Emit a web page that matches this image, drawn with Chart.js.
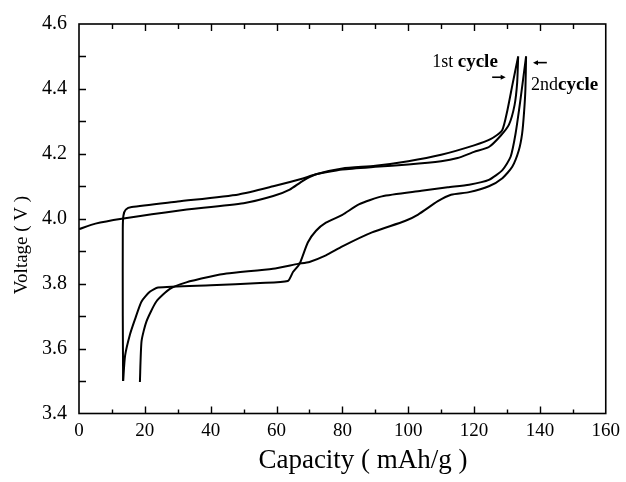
<!DOCTYPE html>
<html>
<head>
<meta charset="utf-8">
<script src="https://cdn.jsdelivr.net/npm/chart.js"></script>
<style>
html,body{margin:0;padding:0;background:#fff;}
#wrap{width:626px;height:482px;position:relative;}
canvas{display:block;}
</style>
</head>
<body>
<div id="wrap"><canvas id="c" width="626" height="482"></canvas></div>
<script>
// ---- data (capacity in mAh/g, voltage in V) ----
const cycle1ChargeCap = [0, 5, 13, 30, 50, 59, 64, 68, 72, 80, 90, 100, 110, 120, 125, 128.5, 130.1, 131.6, 133.4];
const cycle1ChargeV   = [3.968, 3.985, 4.0, 4.025, 4.048, 4.07, 4.09, 4.117, 4.137, 4.155, 4.163, 4.177, 4.197, 4.226, 4.245, 4.272, 4.333, 4.41, 4.5];

const cycle1DischargeCap = [133.4, 133.1, 132.3, 130.6, 128, 124.5, 120, 115, 110, 100, 90, 80, 75, 71, 68, 59, 48.5, 30, 16, 14.2, 13.5, 13.3, 13.3, 13.4];
const cycle1DischargeV   = [4.5, 4.42, 4.35, 4.29, 4.255, 4.221, 4.206, 4.187, 4.177, 4.167, 4.16, 4.152, 4.143, 4.134, 4.124, 4.1, 4.075, 4.053, 4.036, 4.028, 4.01, 3.97, 3.7, 3.5];

const cycle2ChargeCap = [13.4, 14, 15.5, 17, 19, 21.5, 24, 40, 55, 63.4, 65, 67, 69.5, 72, 75, 80, 85, 92, 104, 112, 118.5, 124.5, 128.6, 131.1, 132.6, 134, 135.8];
const cycle2ChargeV   = [3.5, 3.578, 3.644, 3.69, 3.745, 3.775, 3.788, 3.795, 3.802, 3.808, 3.836, 3.861, 3.927, 3.963, 3.988, 4.012, 4.044, 4.069, 4.086, 4.097, 4.105, 4.12, 4.15, 4.191, 4.262, 4.36, 4.5];

const cycle2DischargeCap = [135.8, 135.6, 135.2, 134.6, 133.6, 131.6, 128.6, 124.5, 118.5, 113, 109, 103, 99, 89, 80, 75, 70, 66.5, 58.9, 44.8, 39.7, 32.6, 27.6, 23.5, 20.5, 19, 18.5];
const cycle2DischargeV   = [4.5, 4.4, 4.33, 4.262, 4.211, 4.16, 4.125, 4.1, 4.082, 4.074, 4.054, 4.013, 3.993, 3.958, 3.915, 3.887, 3.867, 3.861, 3.846, 3.831, 3.821, 3.804, 3.784, 3.745, 3.684, 3.623, 3.497];

// axis tick labels
const xTickLabels = ['0', '20', '40', '60', '80', '100', '120', '140', '160'];
const yTickLabels = ['3.4', '3.6', '3.8', '4.0', '4.2', '4.4', '4.6'];
const xTitle = 'Capacity ( mAh/g )';
const yTitle = 'Voltage ( V )';

// annotations (text pieces, anchors in data units)
const noteRegular = ['1st ', '2nd'];
const noteBold = ['cycle', 'cycle'];
const noteCap = [107.3, 137.3];
const noteV = [4.466, 4.397];
const arrowFromCap = [125.5, 142.1];
const arrowToCap = [129.6, 137.9];
const arrowV = [4.436, 4.481];

// ---- build ----
function pts(xs, ys) { return xs.map((x, i) => ({x: x, y: ys[i]})); }
const lineStyle = {showLine: true, borderColor: '#000', borderWidth: 2, pointRadius: 0, tension: 0.2, fill: false};

const SERIF = '"Liberation Serif", "Times New Roman", serif';

const framePlugin = {
  id: 'frame',
  afterDraw(chart) {
    const {ctx, chartArea: a, scales: {x, y}} = chart;
    ctx.save();
    ctx.strokeStyle = '#000';
    ctx.lineWidth = 1.6;
    ctx.strokeRect(a.left, a.top, a.right - a.left, a.bottom - a.top);
    ctx.lineWidth = 1.4;
    ctx.beginPath();
    for (let i = 1; i < 16; i++) {
      const v = x.min + i * (x.max - x.min) / 16;
      const px = Math.round(x.getPixelForValue(v)) + 0.5;
      const major = i % 2 === 0;
      const lb = major ? 7 : 4;
      const lt = major ? 7 : 5;
      ctx.moveTo(px, a.bottom); ctx.lineTo(px, a.bottom - lb);
      ctx.moveTo(px, a.top); ctx.lineTo(px, a.top + lt);
    }
    for (let i = 1; i < 12; i++) {
      const v = y.min + i * (y.max - y.min) / 12;
      const py = Math.round(y.getPixelForValue(v)) + 0.5;
      ctx.moveTo(a.left, py); ctx.lineTo(a.left + 7, py);
    }
    ctx.stroke();

    // annotations
    ctx.fillStyle = '#000';
    ctx.textBaseline = 'alphabetic';
    ctx.textAlign = 'left';
    for (let i = 0; i < noteRegular.length; i++) {
      let px = x.getPixelForValue(noteCap[i]);
      const py = y.getPixelForValue(noteV[i]);
      ctx.font = '18px ' + SERIF;
      ctx.fillText(noteRegular[i], px, py);
      px += ctx.measureText(noteRegular[i]).width;
      ctx.font = 'bold 19px ' + SERIF;
      ctx.fillText(noteBold[i], px, py);
    }
    ctx.lineWidth = 1.6;
    for (let i = 0; i < arrowFromCap.length; i++) {
      const x1 = x.getPixelForValue(arrowFromCap[i]);
      const x2 = x.getPixelForValue(arrowToCap[i]);
      const py = y.getPixelForValue(arrowV[i]);
      const dir = Math.sign(x2 - x1);
      ctx.beginPath();
      ctx.moveTo(x1, py); ctx.lineTo(x2 - dir * 3, py);
      ctx.stroke();
      ctx.beginPath();
      ctx.moveTo(x2, py); ctx.lineTo(x2 - dir * 5, py - 2.5); ctx.lineTo(x2 - dir * 5, py + 2.5);
      ctx.closePath(); ctx.fill();
    }

    // axis titles
    ctx.font = '27px ' + SERIF;
    ctx.textAlign = 'center';
    ctx.fillText(xTitle, 363, 468);
    ctx.save();
    ctx.translate(27, 245);
    ctx.rotate(-Math.PI / 2);
    ctx.font = '19px ' + SERIF;
    ctx.textAlign = 'center';
    ctx.fillText(yTitle, 0, 0);
    ctx.restore();
    ctx.restore();
  }
};

const bgPlugin = {
  id: 'bg',
  beforeDraw(chart) {
    const {ctx, width, height} = chart;
    ctx.save(); ctx.fillStyle = '#fff'; ctx.fillRect(0, 0, width, height); ctx.restore();
  }
};

new Chart(document.getElementById('c'), {
  type: 'scatter',
  data: {
    datasets: [
      Object.assign({label: '1st charge', data: pts(cycle1ChargeCap, cycle1ChargeV)}, lineStyle),
      Object.assign({label: '1st discharge', data: pts(cycle1DischargeCap, cycle1DischargeV)}, lineStyle),
      Object.assign({label: '2nd charge', data: pts(cycle2ChargeCap, cycle2ChargeV)}, lineStyle),
      Object.assign({label: '2nd discharge', data: pts(cycle2DischargeCap, cycle2DischargeV)}, lineStyle)
    ]
  },
  options: {
    responsive: false,
    animation: false,
    devicePixelRatio: 1,
    layout: {padding: {left: 0, right: 19, top: 18, bottom: 0}},
    plugins: {legend: {display: false}, tooltip: {enabled: false}},
    scales: {
      x: {
        type: 'linear', min: 0, max: 160,
        grid: {display: false, drawTicks: false},
        border: {display: false},
        ticks: {
          stepSize: 20, padding: 6, color: '#000', maxRotation: 0,
          font: {family: SERIF, size: 19},
          callback: (v) => { const i = Math.round(v / 20); return xTickLabels[i]; }
        },
        afterFit: (s) => { s.height = 68.5; }
      },
      y: {
        type: 'linear', min: 3.4, max: 4.6,
        grid: {display: false, drawTicks: false},
        border: {display: false},
        ticks: {
          stepSize: 0.2, padding: 12, color: '#000',
          font: {family: SERIF, size: 20},
          callback: (v) => { const i = Math.round((v - 3.4) / 0.2); return yTickLabels[i]; }
        },
        afterFit: (s) => { s.width = 79; }
      }
    }
  },
  plugins: [bgPlugin, framePlugin]
});
</script>
</body>
</html>
